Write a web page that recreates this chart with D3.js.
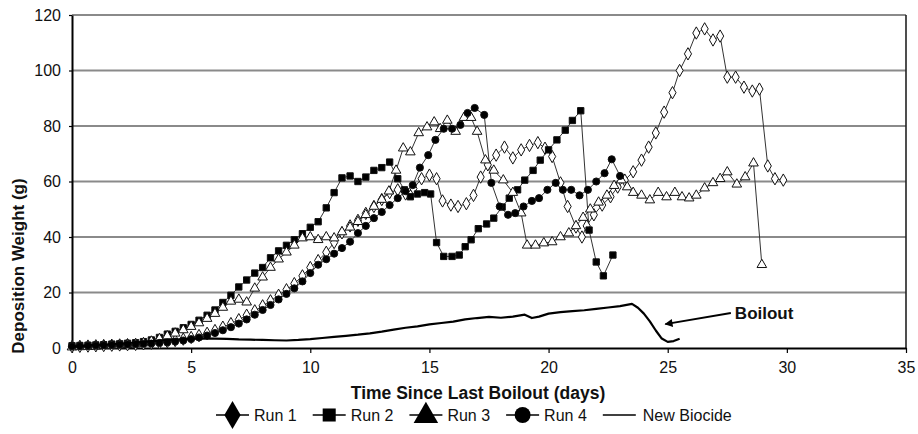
<!DOCTYPE html>
<html><head><meta charset="utf-8">
<script src="https://cdn.jsdelivr.net/npm/d3@7"></script>
<style>
body{margin:0;background:#fff;}
svg{display:block;font-family:Arial,"Liberation Sans",Helvetica,sans-serif;}
</style></head>
<body><svg id="chart" width="918" height="434"></svg>
<script>
// ---- data ----
const run1X = [0,0.33,0.67,1,1.33,1.67,2,2.33,2.67,3,3.33,3.67,4,4.33,4.67,5,5.33,5.67,6,6.33,6.67,7,7.33,7.67,8,8.33,8.67,9,9.33,9.67,10,10.33,10.67,11,11.33,11.67,12,12.33,12.67,13,13.33,13.67,14,14.33,14.67,15,15.3,15.55,15.9,16.2,16.55,16.85,17.15,17.45,17.8,18.15,18.5,18.85,19.2,19.55,19.85,20.15,20.5,20.8,21.15,21.4,21.6,21.9,22.25,22.6,22.9,23.2,23.55,23.9,24.2,24.5,24.85,25.2,25.5,25.85,26.2,26.55,26.9,27.2,27.5,27.85,28.2,28.55,28.85,29.2,29.5,29.85];
const run1Y = [0.5,0.6,0.7,0.8,0.9,1.0,1.1,1.2,1.3,1.5,1.7,1.9,2.3,2.7,3.2,3.8,4.5,5.3,6.3,7.5,8.8,10.2,11.8,13.4,15.2,17.0,19.0,21.0,23.2,26.0,29.0,31.5,34.5,38.0,41.5,44.0,46.0,48.5,51.0,53.5,56.0,57.0,55.5,57.5,61.0,62.3,61.0,53.0,51.5,51.0,52.0,55.0,61.6,66.0,69.5,72.4,68.5,71.4,73.0,74.0,72.0,69.0,59.5,51.0,43.6,40.0,44.0,48.0,51.5,54.5,58.0,60.5,63.5,67.7,72.4,77.5,85.0,92.0,100.0,106.0,113.5,115.0,111.0,112.4,97.6,97.6,94.0,92.6,93.3,65.6,61.0,60.5];

const run2X = [0,0.33,0.67,1,1.33,1.67,2,2.33,2.67,3,3.33,3.67,4,4.33,4.67,5,5.33,5.67,6,6.33,6.67,7,7.33,7.67,8,8.33,8.67,9,9.33,9.67,10,10.33,10.67,11,11.33,11.67,12,12.33,12.67,13,13.33,13.67,13.95,14.2,14.5,14.8,15.05,15.3,15.6,15.95,16.25,16.5,16.75,17.05,17.4,17.7,18.05,18.35,18.7,19.0,19.35,19.65,20.0,20.35,20.7,21.0,21.35,21.7,22.0,22.3,22.7];
const run2Y = [0.8,0.9,1.0,1.1,1.2,1.4,1.5,1.7,1.9,2.3,2.9,3.8,5.0,6.0,7.3,8.5,10.0,11.8,13.7,16.4,19.0,22.0,24.5,27.0,29.0,32.5,35.0,37.0,39.0,41.2,43.5,45.5,50.5,56.0,61.3,62.0,60.0,61.6,64.0,65.0,67.0,61.0,57.0,54.5,55.5,56.0,55.5,38.0,33.0,33.0,33.5,36.5,39.0,43.0,44.7,46.8,50.8,54.0,57.0,60.5,64.0,67.7,71.4,75.0,78.5,82.0,85.5,42.5,31.0,26.0,33.5];

const run3X = [0,0.33,0.67,1,1.33,1.67,2,2.33,2.67,3,3.33,3.67,4,4.33,4.67,5,5.33,5.67,6,6.33,6.67,7,7.33,7.67,8,8.33,8.67,9,9.33,9.67,10,10.33,10.67,11,11.33,11.67,12,12.33,12.67,13,13.3,13.6,13.9,14.2,14.55,14.9,15.2,15.45,15.75,16.1,16.45,16.75,17.0,17.35,17.7,18.1,18.5,18.85,19.1,19.45,19.8,20.15,20.5,20.85,21.15,21.45,21.75,22.1,22.45,22.75,23.05,23.3,23.55,23.9,24.25,24.6,24.95,25.3,25.6,25.9,26.2,26.55,26.9,27.2,27.5,27.9,28.25,28.6,28.95];
const run3Y = [0.3,0.4,0.5,0.6,0.8,0.9,1.0,1.2,1.4,1.8,2.4,3.3,4.3,5.3,6.5,7.7,9.0,10.6,12.4,14.6,16.8,17.5,16.5,21.5,25.5,29.0,32.0,34.5,37.0,39.6,40.0,39.0,40.0,39.6,41.8,43.5,45.5,48.0,51.0,53.5,56.5,64.0,72.0,70.6,77.5,79.6,81.4,79.0,82.0,78.0,83.0,83.0,78.0,67.7,64.0,60.5,56.0,48.6,37.0,37.0,37.8,38.2,40.0,41.4,44.0,47.0,50.0,52.5,55.0,58.5,60.5,58.0,56.0,55.0,53.3,56.0,54.4,56.0,54.4,54.0,55.0,57.6,59.5,61.0,63.4,59.0,61.6,66.6,30.0];

const run4X = [0,0.33,0.67,1,1.33,1.67,2,2.33,2.67,3,3.33,3.67,4,4.33,4.67,5,5.33,5.67,6,6.33,6.67,7,7.33,7.67,8,8.33,8.67,9,9.33,9.67,10,10.33,10.67,11,11.33,11.67,12,12.33,12.67,13,13.33,13.67,14,14.3,14.6,14.95,15.25,15.6,15.95,16.3,16.6,16.9,17.3,17.6,17.95,18.3,18.6,18.95,19.3,19.6,19.95,20.3,20.6,20.95,21.3,21.65,22.0,22.35,22.65,23.0];
const run4Y = [0.6,0.7,0.8,0.9,1.0,1.1,1.2,1.3,1.4,1.5,1.6,1.8,2.0,2.3,2.7,3.2,3.8,4.5,5.4,6.4,7.5,8.8,10.3,12.0,13.7,15.5,17.5,19.5,21.5,24.0,27.0,30.0,32.0,34.0,36.0,38.3,41.4,44.0,46.8,49.0,51.5,54.0,56.5,58.7,65.0,69.5,75.0,79.0,79.0,80.4,84.7,86.5,84.0,59.5,51.0,48.0,48.6,51.0,53.0,54.0,57.0,59.5,57.0,57.0,55.0,57.0,60.0,63.0,68.0,62.0];

const biocideX = [0,0.5,1,1.5,2,2.5,3,3.5,4,4.5,5,5.5,6,6.5,7,7.5,8,8.5,9,9.5,10,10.5,11,11.5,12,12.5,13,13.5,14,14.5,15,15.5,16,16.5,17,17.5,18,18.5,19,19.3,19.6,20,20.5,21,21.5,22,22.5,23,23.5,23.75,24,24.25,24.5,24.75,25,25.25,25.5];
const biocideY = [0.5,0.8,1.1,1.3,1.6,1.9,2.2,2.6,2.9,3.1,3.3,3.5,3.4,3.3,3.1,3.0,2.9,2.8,2.7,2.9,3.2,3.6,4.0,4.4,4.8,5.3,5.9,6.6,7.3,7.8,8.5,9.0,9.5,10.3,10.8,11.2,10.9,11.3,12.0,10.8,11.3,12.4,12.9,13.3,13.6,14.1,14.6,15.1,15.9,14.5,12.4,9.6,6.3,3.4,2.2,2.5,3.3];

const seriesNames = ["Run 1","Run 2","Run 3","Run 4","New Biocide"];
const xTicks = [0,5,10,15,20,25,30,35];
const yTicks = [0,20,40,60,80,100,120];
const xTitle = "Time Since Last Boilout (days)";
const yTitle = "Deposition Weight (g)";
const annotationText = "Boilout";
const annotationTail = [27.65, 12.6];
const annotationTip = [24.9, 8.6];

// ---- layout ----
const W = 918, H = 434;
const m = {left:72, right:12, top:15, bottom:86};
const svg = d3.select("#chart");
const x = d3.scaleLinear().domain([0,35]).range([m.left, W - m.right]);
const y = d3.scaleLinear().domain([0,120]).range([H - m.bottom, m.top]);

// grid lines
svg.append("g").selectAll("line").data(yTicks.filter(d=>d>0)).join("line")
  .attr("x1", x(0)).attr("x2", x(35))
  .attr("y1", d=>y(d)).attr("y2", d=>y(d))
  .attr("stroke", "#8a8a8a").attr("stroke-width", 2);

// right border
svg.append("line").attr("x1", x(35)).attr("x2", x(35)).attr("y1", y(120)).attr("y2", y(0))
  .attr("stroke", "#222").attr("stroke-width", 1.6);

// axes
const xAxis = svg.append("g").attr("transform", `translate(0,${y(0)})`)
  .call(d3.axisBottom(x).tickValues(xTicks).tickSize(5).tickSizeOuter(0).tickPadding(9).tickFormat(d3.format("d")));
const yAxis = svg.append("g").attr("transform", `translate(${x(0)},0)`)
  .call(d3.axisLeft(y).tickValues(yTicks).tickSize(3).tickSizeOuter(0).tickPadding(8).tickFormat(d3.format("d")));
[xAxis, yAxis].forEach(g => {
  g.select(".domain").attr("stroke", "#000").attr("stroke-width", 2);
  g.selectAll(".tick line").attr("stroke", "#000").attr("stroke-width", 1.2);
  g.selectAll(".tick text").attr("font-size", 16).attr("fill", "#111")
    .attr("font-family", "Arial, 'Liberation Sans', sans-serif");
});

// axis titles
svg.append("text").attr("x", 478).attr("y", 399).attr("text-anchor", "middle")
  .attr("font-size", 17.5).attr("font-weight", "bold").attr("fill", "#111").text(xTitle);
svg.append("text").attr("transform", `translate(24,${266}) rotate(-90)`).attr("text-anchor", "middle")
  .attr("font-size", 17).attr("font-weight", "bold").attr("fill", "#111").text(yTitle);

// series
const line = d3.line().x(d=>x(d[0])).y(d=>y(d[1]));
const zip = (a,b) => a.map((v,i)=>[v,b[i]]);
const series = [
  {name: seriesNames[0], pts: zip(run1X, run1Y), shape: d3.symbolDiamond, size: 44, fill: "#fff"},
  {name: seriesNames[1], pts: zip(run2X, run2Y), shape: d3.symbolSquare, size: 40, fill: "#000"},
  {name: seriesNames[2], pts: zip(run3X, run3Y), shape: d3.symbolTriangle, size: 40, fill: "#fff"},
  {name: seriesNames[3], pts: zip(run4X, run4Y), shape: d3.symbolCircle, size: 40, fill: "#000"}
];
const plot = svg.append("g");
series.forEach(s => {
  plot.append("path").datum(s.pts).attr("d", line).attr("fill", "none")
    .attr("stroke", "#333").attr("stroke-width", 1);
});
series.forEach(s => {
  plot.append("g").selectAll("path").data(s.pts).join("path")
    .attr("transform", d=>`translate(${x(d[0])},${y(d[1])})`)
    .attr("d", d3.symbol().type(s.shape).size(s.size))
    .attr("fill", s.fill).attr("stroke", "#111").attr("stroke-width", 1);
});
plot.append("path").datum(zip(biocideX, biocideY)).attr("d", line)
  .attr("fill", "none").attr("stroke", "#000").attr("stroke-width", 2.2).attr("stroke-linejoin", "round");

// annotation
svg.append("defs").append("marker").attr("id", "ah").attr("viewBox", "0 0 10 10")
  .attr("refX", 9).attr("refY", 5).attr("markerWidth", 10).attr("markerHeight", 8)
  .attr("markerUnits", "userSpaceOnUse").attr("orient", "auto")
  .append("path").attr("d", "M0,0 L10,5 L0,10 z").attr("fill", "#000");
svg.append("line").attr("x1", x(annotationTail[0])).attr("y1", y(annotationTail[1]))
  .attr("x2", x(annotationTip[0])).attr("y2", y(annotationTip[1]))
  .attr("stroke", "#000").attr("stroke-width", 2).attr("marker-end", "url(#ah)");
svg.append("text").attr("x", x(annotationTail[0]) + 4).attr("y", y(annotationTail[1]) + 6)
  .attr("font-size", 17).attr("font-weight", "bold").attr("fill", "#111").text(annotationText);

// legend
const legendShapes = [d3.symbolDiamond, d3.symbolSquare, d3.symbolTriangle, d3.symbolCircle, null];
const legendSizes = [230, 170, 260, 200, 0];
const lg = svg.append("g");
let lx = 216;
const ly = 415;
seriesNames.forEach((name, i) => {
  const segW = 33;
  const gap = i === 4 ? 7 : 5;
  lg.append("line").attr("x1", lx).attr("x2", lx + segW).attr("y1", ly).attr("y2", ly)
    .attr("stroke", "#000").attr("stroke-width", 1.4);
  if (legendShapes[i]) {
    lg.append("path").attr("transform", `translate(${lx + segW/2},${ly + (i===2 ? 1 : 0)})`)
      .attr("d", d3.symbol().type(legendShapes[i]).size(legendSizes[i])).attr("fill", "#000");
  }
  const t = lg.append("text").attr("x", lx + segW + gap).attr("y", ly + 6)
    .attr("font-size", 16).attr("fill", "#111").text(name);
  lx += segW + gap + t.node().getComputedTextLength() + 16;
});
</script></body></html>
